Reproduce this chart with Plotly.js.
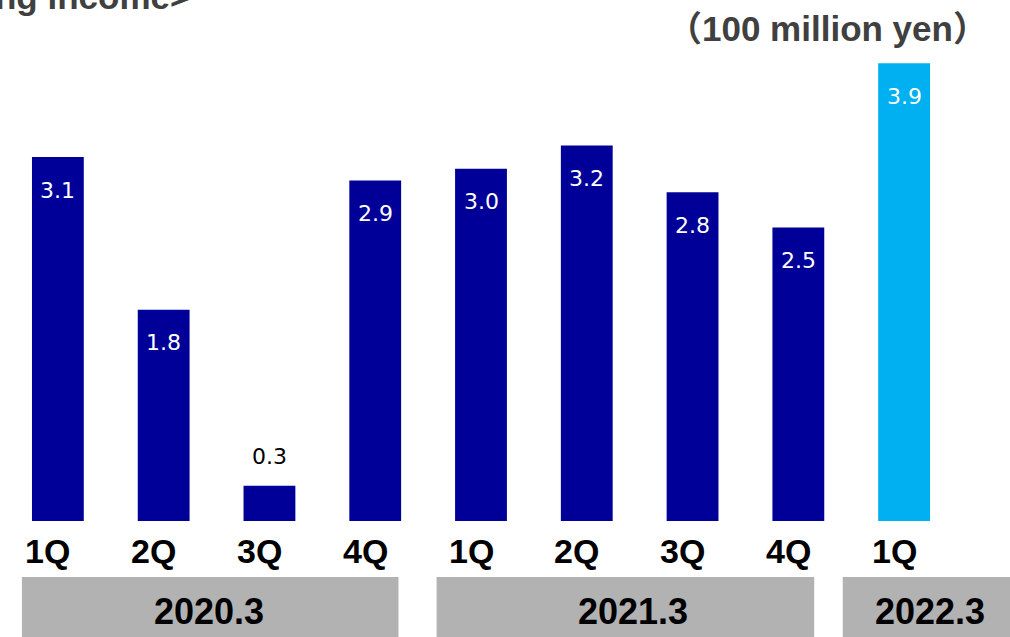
<!DOCTYPE html>
<html>
<head>
<meta charset="utf-8">
<script src="https://cdn.plot.ly/plotly-3.0.1.min.js"></script>
<style>html,body{margin:0;padding:0;background:#fff;}#chart{width:1010px;height:637px;}</style>
</head>
<body>
<div id="chart"></div>
<script>
// ---- data ----
const quarters = ["1Q","2Q","3Q","4Q","1Q","2Q","3Q","4Q","1Q"];
const values = [3.1, 1.8, 0.3, 2.9, 3.0, 3.2, 2.8, 2.5, 3.9];
const fiscalYears = ["2020.3","2021.3","2022.3"];
const yearOfBar = [0,0,0,0,1,1,1,1,2];
const titleText = "<Operating income>";
const unitText = "（100 million yen）";

// ---- layout constants ----
const W = 1010, H = 637;
const ml = 5, mr = 53, mt = 28, mb = 116;
const xr = [-0.5, 8.5], yr = [0, 4.2];
const plotW = W - ml - mr, plotH = H - mt - mb;
const px2paperX = p => (p - ml) / plotW;
const px2paperY = p => (H - mb - p) / plotH;
const x2paper = x => (x - xr[0]) / (xr[1] - xr[0]);
const boxExt = [[-0.34, 3.22], [3.58, 7.15], [7.42, 9.3]];
const yearTextPx = [209, 633, 930];

const xs = values.map((v, i) => i);
const current = fiscalYears.length - 1;
const colors = yearOfBar.map(g => g === current ? "#00B0F0" : "#000099");

const trace = {
  type: "bar", x: xs, y: values,
  marker: { color: colors, line: { width: 0 } },
  width: 0.49, hoverinfo: "skip"
};

const annotations = [];
values.forEach((v, i) => {
  const inside = v >= 1;
  annotations.push({
    x: i, y: v, xref: "x", yref: "y", text: v.toFixed(1), showarrow: false,
    xanchor: "center", yanchor: "middle", yshift: inside ? -33 : 29,
    font: { family: "DejaVu Sans", size: 22, color: inside ? "#ffffff" : "#000000" }
  });
  annotations.push({
    x: i, y: 0, xref: "x", yref: "y", text: "<b>" + quarters[i] + "</b>", showarrow: false,
    xanchor: "center", yanchor: "middle", yshift: -30, xshift: -10,
    font: { family: "Liberation Sans, Arial", size: 34, color: "#000000" }
  });
});

const shapes = [];
fiscalYears.forEach((fy, g) => {
  const [a, b] = boxExt[g];
  shapes.push({
    type: "rect", xref: "paper", yref: "paper",
    x0: x2paper(a), x1: x2paper(b), y0: px2paperY(637), y1: px2paperY(577),
    fillcolor: "#B2B2B2", line: { width: 0 }, layer: "below"
  });
  annotations.push({
    x: px2paperX(yearTextPx[g]), y: px2paperY(611), xref: "paper", yref: "paper",
    text: "<b>" + fy + "</b>", showarrow: false, xanchor: "center", yanchor: "middle",
    font: { family: "Liberation Sans, Arial", size: 36, color: "#000000" }
  });
});

annotations.push({
  x: px2paperX(192), y: px2paperY(-4), xref: "paper", yref: "paper",
  text: "<b>" + titleText.replace(/</g, "&lt;").replace(/>/g, "&gt;") + "</b>",
  showarrow: false, xanchor: "right", yanchor: "middle",
  font: { family: "Liberation Sans, Arial", size: 35, color: "#404040" }
});
annotations.push({
  x: px2paperX(827), y: px2paperY(28), xref: "paper", yref: "paper",
  text: "<b>" + unitText + "</b>", showarrow: false, xanchor: "center", yanchor: "middle",
  font: { family: "Liberation Sans, Arial, Noto Sans CJK JP", size: 35, color: "#404040" }
});

const layout = {
  width: W, height: H,
  margin: { l: ml, r: mr, t: mt, b: mb, pad: 0 },
  paper_bgcolor: "#ffffff", plot_bgcolor: "#ffffff",
  showlegend: false,
  xaxis: { range: xr, visible: false, fixedrange: true },
  yaxis: { range: yr, visible: false, fixedrange: true },
  shapes: shapes, annotations: annotations
};

Plotly.newPlot("chart", [trace], layout, { displayModeBar: false, staticPlot: true });
</script>
</body>
</html>
